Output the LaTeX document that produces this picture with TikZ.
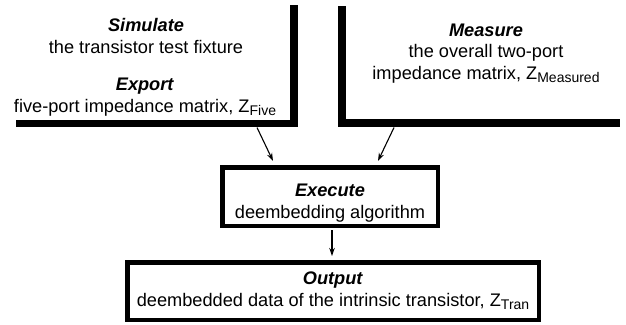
\documentclass[tikz,border=0pt]{standalone}
\usepackage{fontspec}
\setmainfont{Liberation Sans}
\usetikzlibrary{arrows.meta}
\newcommand{\subz}[1]{\raisebox{-3.5pt}{\fontsize{14}{14}\selectfont #1}}
\begin{document}
\begin{tikzpicture}[x=1pt,y=-1pt,
  txt/.style={align=center,inner sep=0pt,font=\fontsize{18.2}{21.5}\selectfont},
  stepbox/.style={draw,line width=4.5pt,align=center,inner sep=0pt,font=\fontsize{18.2}{21.5}\selectfont},
  arr/.style={line width=1.1pt,-{Stealth[length=8pt,width=5.5pt]}},
  bar/.style={fill=black}]
\useasboundingbox (0,0) rectangle (626,324);
% left panel shadow lines
\fill[bar] (290,5) rectangle (298,127);
\fill[bar] (16,120) rectangle (298,127);
% right panel shadow lines
\fill[bar] (338,6) rectangle (346,127);
\fill[bar] (338,119) rectangle (620,127);
% texts
\node[txt] (sim) at (146,36) {\textbf{\textit{Simulate}}\\the transistor test fixture};
\node[txt] (exp) at (145,97) {\textbf{\textit{Export}}\\five-port impedance matrix, Z\subz{Five}};
\node[txt] (meas) at (486,53.5) {\textbf{\textit{Measure}}\\the overall two-port\\impedance matrix, Z\subz{Measured}};
\node[stepbox,minimum width=215.5pt,minimum height=58.5pt] (exec) at (330,196.5) {\rule{0pt}{26pt}\textbf{\textit{Execute}}\\deembedding algorithm};
\node[stepbox,minimum width=411.5pt,minimum height=57.5pt] (out) at (333,291) {\textbf{\textit{Output}}\\deembedded data of the intrinsic transistor, Z\subz{Tran}};
% connectors
\coordinate (simout) at (257,127.5);
\coordinate (measout) at (394,127.5);
\coordinate (ein1) at (273,161);
\coordinate (ein2) at (378,161);
\draw[arr] (simout) -- (ein1);
\draw[arr] (measout) -- (ein2);
\draw[arr,shorten <=2pt,shorten >=4pt] (exec.south -| 332,0) -- (out.north -| 332,0);
\end{tikzpicture}
\end{document}
